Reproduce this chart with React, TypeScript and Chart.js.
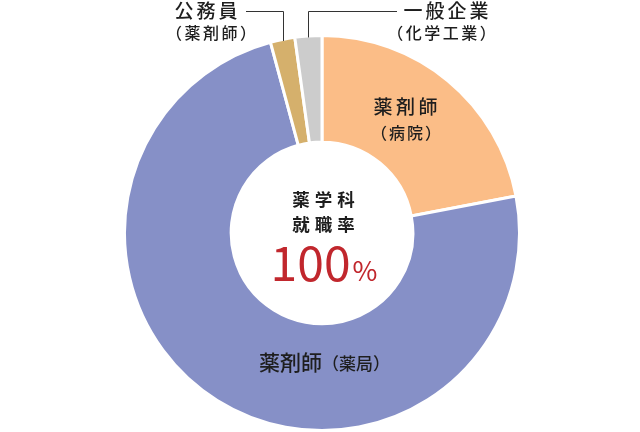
import React, { useEffect, useRef } from "react";
import { Chart, registerables } from "chart.js";

Chart.register(...registerables);

// ---- data ----
const categories = ["薬剤師（病院）", "薬剤師（薬局）", "公務員（薬剤師）", "一般企業（化学工業）"];
const values = [22.0, 73.8, 2.0, 2.2];
const colors = ["#FBBD87", "#8690C7", "#D5B06C", "#CCCCCC"];
const hospitalLabel = ["薬剤師", "（病院）"];
const pharmacyLabel = ["薬剤師", "（薬局）"];
const publicLabel = ["公務員", "（薬剤師）"];
const companyLabel = ["一般企業", "（化学工業）"];
const centerTitle = ["薬学科", "就職率"];
const centerValue = "100";
const centerUnit = "%";

const JP = '"Noto Sans CJK JP", "Noto Sans", sans-serif';
const TEXT = "#1e1e1e";
const RED = "#C1272D";

function drawSpaced(
  ctx: CanvasRenderingContext2D,
  text: string,
  x: number,
  y: number,
  font: string,
  spacing: number,
  align: CanvasTextAlign = "center"
) {
  ctx.font = font;
  (ctx as any).letterSpacing = `${spacing}px`;
  ctx.textAlign = align;
  const dx = align === "center" ? spacing / 2 : align === "right" ? spacing : 0;
  ctx.fillText(text, x + dx, y);
  (ctx as any).letterSpacing = "0px";
}

const labelPlugin = {
  id: "customLabels",
  afterDraw(chart: any) {
    const ctx: CanvasRenderingContext2D = chart.ctx;
    const meta = chart.getDatasetMeta(0);
    const arcs = meta.data as any[];
    if (!arcs.length) return;
    const p0 = arcs[0].getProps(["x", "y", "outerRadius"], true);
    const cx: number = p0.x;
    const cy: number = p0.y;
    const R: number = p0.outerRadius - 1.5;

    ctx.save();
    ctx.fillStyle = TEXT;
    ctx.textBaseline = "middle";

    // center title
    drawSpaced(ctx, centerTitle[0], cx + 1.5, cy - 34, `600 17.5px ${JP}`, 5);
    drawSpaced(ctx, centerTitle[1], cx + 1.5, cy - 9, `600 17.5px ${JP}`, 5);

    // 100%
    ctx.fillStyle = RED;
    ctx.textBaseline = "alphabetic";
    ctx.font = `400 48px ${JP}`;
    const w1 = ctx.measureText(centerValue).width;
    ctx.font = `400 27px ${JP}`;
    const w2 = ctx.measureText(centerUnit).width;
    const start = cx + 2 - (w1 + w2 + 2) / 2;
    ctx.textAlign = "left";
    ctx.font = `400 48px ${JP}`;
    ctx.fillText(centerValue, start, cy + 48);
    ctx.font = `400 27px ${JP}`;
    ctx.fillText(centerUnit, start + w1 + 2, cy + 48);

    // hospital label (orange)
    ctx.fillStyle = TEXT;
    ctx.textBaseline = "middle";
    drawSpaced(ctx, hospitalLabel[0], cx + 83.5, cy - 126.5, `500 19px ${JP}`, 3.5);
    drawSpaced(ctx, hospitalLabel[1], cx + 84, cy - 100.5, `500 16px ${JP}`, 2);

    // pharmacy label (blue)
    ctx.font = `500 21px ${JP}`;
    const b1 = ctx.measureText(pharmacyLabel[0]).width;
    ctx.font = `500 17px ${JP}`;
    const b2 = ctx.measureText(pharmacyLabel[1]).width;
    const bStart = cx - 2 - (b1 + b2) / 2 + 4.5;
    ctx.textAlign = "left";
    ctx.font = `500 21px ${JP}`;
    ctx.fillText(pharmacyLabel[0], bStart, cy + 129.5);
    ctx.font = `500 17px ${JP}`;
    ctx.fillText(pharmacyLabel[1], bStart + b1, cy + 130.5);

    // leader lines for small slices
    const lineY = 11;
    ctx.strokeStyle = "#333333";
    ctx.lineWidth = 1;
    const leader = (idx: number, endX: number) => {
      const a = arcs[idx].getProps(["startAngle", "endAngle"], true);
      const mid = (a.startAngle + a.endAngle) / 2;
      const px = Math.round(cx + R * Math.cos(mid)) + 0.5;
      const py = cy + R * Math.sin(mid);
      ctx.beginPath();
      ctx.moveTo(px, py);
      ctx.lineTo(px, lineY + 0.5);
      ctx.lineTo(endX, lineY + 0.5);
      ctx.stroke();
    };
    leader(2, 246);
    leader(3, 397);

    // top labels
    drawSpaced(ctx, publicLabel[0], 206, 11, `500 19px ${JP}`, 3);
    drawSpaced(ctx, publicLabel[1], 211, 33, `500 16px ${JP}`, 2.5);
    drawSpaced(ctx, companyLabel[0], 446, 11, `500 19px ${JP}`, 3);
    drawSpaced(ctx, companyLabel[1], 441.5, 33, `500 16px ${JP}`, 2.5);

    ctx.restore();
  },
};

export default function App() {
  const canvasRef = useRef<HTMLCanvasElement | null>(null);

  useEffect(() => {
    if (!canvasRef.current) return;
    const chart = new Chart(canvasRef.current, {
      type: "doughnut",
      data: {
        labels: categories,
        datasets: [
          {
            data: values,
            backgroundColor: colors,
            borderColor: "#ffffff",
            borderWidth: 3,
            hoverOffset: 0,
          },
        ],
      },
      options: {
        animation: false,
        responsive: true,
        maintainAspectRatio: false,
        cutout: "46%",
        layout: { padding: { top: 34, bottom: -2, left: 122, right: 118 } },
        plugins: {
          legend: { display: false },
          tooltip: { enabled: false },
        },
        events: [],
      },
      plugins: [labelPlugin],
    });
    return () => chart.destroy();
  }, []);

  return (
    <div
      style={{
        position: "absolute",
        left: 0,
        top: 0,
        width: 640,
        height: 432,
        background: "#ffffff",
      }}
    >
      <canvas ref={canvasRef} />
    </div>
  );
}
